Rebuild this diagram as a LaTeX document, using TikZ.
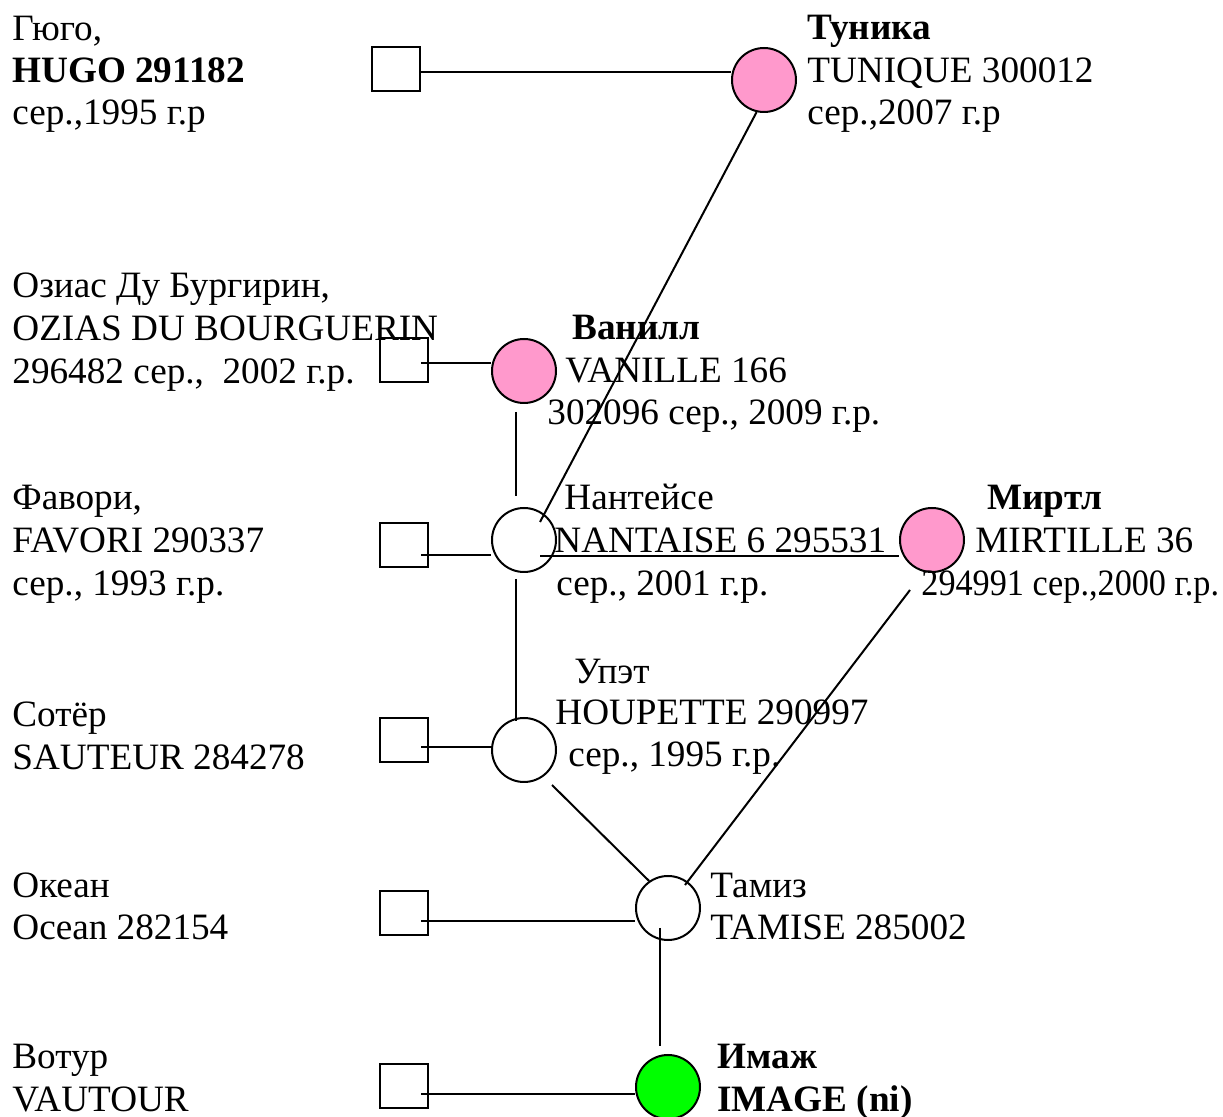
\documentclass[tikz,border=0pt]{standalone}
\usepackage{fontspec}
\setmainfont{Liberation Serif}
\usetikzlibrary{calc}
\definecolor{mypink}{HTML}{FF99CC}
\definecolor{mygreen}{HTML}{00FF00}
\begin{document}
\begin{tikzpicture}[x=0.5pt,y=-0.5pt,
  male/.style={draw, line width=1pt, fill=white, minimum width=24pt, minimum height=22pt, inner sep=0pt},
  female/.style={draw, circle, line width=1pt, fill=white, minimum size=32pt, inner sep=0pt},
  lbl/.style={anchor=base west, inner sep=0pt, font=\fontsize{18.6}{21}\selectfont},
  blbl/.style={lbl, font=\fontsize{18.6}{21}\selectfont\bfseries},
  conn/.style={line width=1pt}]
\useasboundingbox (0,0) rectangle (1223,1117);
% squares
\node[male] (s1) at (396,69) {};
\node[male] (s2) at (404,360) {};
\node[male] (s3) at (404,545) {};
\node[male] (s4) at (404,740) {};
\node[male] (s5) at (404,913) {};
\node[male] (s6) at (404,1086) {};
% circles
\node[female, fill=mypink] (c1) at (764,80) {};
\node[female, fill=mypink] (c2) at (524,371) {};
\node[female] (c3) at (524,540) {};
\node[female] (c4) at (524,750) {};
\node[female, fill=mypink] (c5) at (932,540) {};
\node[female] (c6) at (668,908) {};
\node[female, fill=mygreen] (c7) at (668,1087) {};
% left labels
\node[lbl] (l1a) at (12,41) {Гюго,};
\node[blbl] (l1b) at (12,83) {HUGO 291182};
\node[lbl] (l1c) at (12,125) {сер.,1995 г.р};
\node[lbl] (l2a) at (12,298) {Озиас Ду Бургирин,};
\node[lbl] (l2b) at (12,341) {OZIAS DU BOURGUERIN};
\node[lbl] (l2c) at (12,384) {296482 сер.,\ \ 2002 г.р.};
\node[lbl] (l3a) at (12,510) {Фавори,};
\node[lbl] (l3b) at (12,553) {FAVORI 290337};
\node[lbl] (l3c) at (12,596) {сер., 1993 г.р.};
\node[lbl] (l4a) at (12,727) {Сотёр};
\node[lbl] (l4b) at (12,770) {SAUTEUR 284278};
\node[lbl] (l5a) at (12,898) {Океан};
\node[lbl] (l5b) at (12,940) {Ocean 282154};
\node[lbl] (l6a) at (12,1069) {Вотур};
\node[lbl] (l6b) at (12,1111) {VAUTOUR};
% right labels
\node[blbl] (r1a) at (807,40) {Туника};
\node[lbl] (r1b) at (807,83) {TUNIQUE 300012};
\node[lbl] (r1c) at (807,125) {сер.,2007 г.р};
\node[blbl] (r2a) at (572,340) {Ванилл};
\node[lbl] (r2b) at (565,383) {VANILLE 166};
\node[lbl] (r2c) at (547,425) {302096 сер., 2009 г.р.};
\node[lbl] (r3a) at (564,510) {Нантейсе};
\node[lbl] (r3b) at (554,553) {NANTAISE 6 295531};
\node[lbl] (r3c) at (556,596) {сер., 2001 г.р.};
\node[blbl] (r5a) at (987,510) {Миртл};
\node[lbl] (r5b) at (975,553) {MIRTILLE 36};
\node[lbl] (r5c) at (921,596) {\scalebox{0.92}[1]{294991 сер.,2000 г.р.}};
\node[lbl] (r4a) at (574,684) {Упэт};
\node[lbl] (r4b) at (555,725) {HOUPETTE 290997};
\node[lbl] (r4c) at (568,767) {сер., 1995 г.р.};
\node[lbl] (r6a) at (710,898) {Тамиз};
\node[lbl] (r6b) at (710,940) {TAMISE 285002};
\node[blbl] (r7a) at (717,1069) {Имаж};
\node[blbl] (r7b) at (717,1111) {IMAGE (ni)};
% connector end points
\coordinate (p1) at ([yshift=-1.5pt]s1.east);
\coordinate (p2) at ([xshift=-4pt,yshift=-1.5pt]s2.east);
\coordinate (p3) at ([xshift=-4pt,yshift=-5pt]s3.east);
\coordinate (p4) at ([xshift=-4pt,yshift=-3.5pt]s4.east);
\coordinate (p5) at ([xshift=-4pt,yshift=-4pt]s5.east);
\coordinate (p6) at ([xshift=-4pt,yshift=-4.25pt]s6.east);
\coordinate (n1) at ($(c3.center)+(8pt,-8pt)$);
% connectors
\draw[conn] (p1) -- (p1 -| c1.west);
\draw[conn] (c1.257) -- ($(c3.center)+(8pt,9pt)$);
\draw[conn] (p2) -- (p2 -| c2.west);
\draw[conn] ([xshift=-4pt,yshift=-4pt]c2.south) -- ([xshift=-4pt,yshift=5.5pt]c3.north);
\draw[conn] (p3) -- (p3 -| c3.west);
\draw[conn] (n1) -- (n1 -| c5.west);
\draw[conn] ([xshift=-4pt,yshift=-3pt]c3.south) -- ([xshift=-4pt,yshift=-2pt]c4.north);
\draw[conn] (p4) -- (p4 -| c4.west);
\draw[conn] ($(c4.center)+(14pt,-17.5pt)$) -- (c6.125);
\draw[conn] ($(c5.center)+(-11pt,-25pt)$) -- ($(c6.center)+(8.5pt,11.5pt)$);
\draw[conn] (p5) -- (p5 -| c6.west);
\draw[conn] ([xshift=-4pt,yshift=6.5pt]c6.south) -- ([xshift=-4pt,yshift=4pt]c7.north);
\draw[conn] (p6) -- (p6 -| c7.west);
\end{tikzpicture}
\end{document}
